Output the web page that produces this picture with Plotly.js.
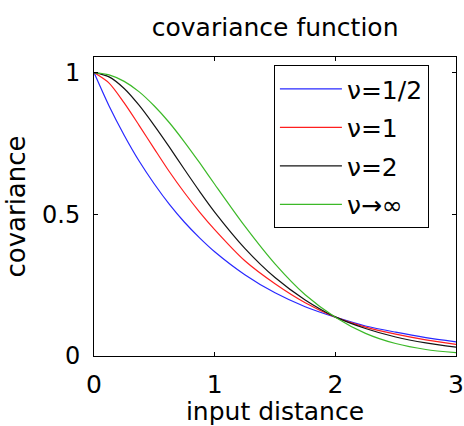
<!DOCTYPE html>
<html>
<head>
<meta charset="utf-8">
<script src="https://cdn.plot.ly/plotly-3.0.1.min.js"></script>
<style>html,body{margin:0;padding:0;background:#fff;}#chart{width:464px;height:426px;}</style>
</head>
<body>
<div id="chart"></div>
<script>
// input distance samples
const distance = [0, 0.125, 0.25, 0.375, 0.5, 0.625, 0.75, 0.875, 1, 1.25, 1.5, 1.75, 2, 2.25, 2.5, 2.75, 3];
// covariance values
const nuHalf = [1, 0.882, 0.779, 0.687, 0.607, 0.535, 0.472, 0.417, 0.368, 0.287, 0.223, 0.174, 0.137, 0.106, 0.084, 0.065, 0.050];
const nuOne  = [1, 0.963, 0.893, 0.813, 0.731, 0.650, 0.576, 0.508, 0.446, 0.336, 0.255, 0.188, 0.137, 0.102, 0.077, 0.057, 0.041];
const nuTwo  = [1, 0.985, 0.944, 0.884, 0.813, 0.737, 0.658, 0.581, 0.508, 0.380, 0.277, 0.198, 0.138, 0.097, 0.067, 0.046, 0.031];
const nuInf  = [1, 0.992, 0.969, 0.932, 0.882, 0.823, 0.755, 0.682, 0.606, 0.458, 0.325, 0.216, 0.137, 0.080, 0.044, 0.023, 0.012];
const seriesNames = ['ν=1/2', 'ν=1', 'ν=2', 'ν→∞'];
const seriesColors = ['rgb(40,40,255)', 'rgb(255,30,30)', 'rgb(20,20,20)', 'rgb(60,185,40)'];
const xTicks = [0, 1, 2, 3];
const yTicks = [0, 0.5, 1];
const yTickText = ['0', '0.5', '1'];

const FONT = 'DejaVu Sans, sans-serif';
const allY = [nuHalf, nuOne, nuTwo, nuInf];
const traces = allY.map((ys, i) => ({
  x: distance, y: ys, type: 'scatter', mode: 'lines',
  name: seriesNames[i], legendgroup: 'g' + i,
  line: {color: seriesColors[i], width: 1.2, shape: 'spline', smoothing: 0.8}
}));

const layout = {
  width: 464, height: 426,
  margin: {l: 94, r: 8, t: 57, b: 70},
  paper_bgcolor: '#fff', plot_bgcolor: '#fff',
  font: {family: FONT, color: '#000', size: 25},
  title: {text: 'covariance function', font: {family: FONT, size: 25, color: '#000'},
          x: 0.593, xanchor: 'center', y: 0.935, yanchor: 'middle', yref: 'container'},
  xaxis: {range: [0, 3], tickvals: xTicks, ticktext: xTicks.map(String),
          ticks: 'inside', ticklen: 4, tickcolor: '#000', mirror: 'ticks',
          showline: true, linecolor: '#000', linewidth: 1, showgrid: false, zeroline: false,
          tickfont: {size: 25}, ticklabelstandoff: 6,
          title: {text: 'input distance', font: {size: 25}, standoff: 2}},
  yaxis: {range: [0, 1.055], tickvals: yTicks, ticktext: yTickText,
          ticks: 'inside', ticklen: 4, tickcolor: '#000', mirror: 'ticks',
          showline: true, linecolor: '#000', linewidth: 1, showgrid: false, zeroline: false,
          tickfont: {size: 24}, ticklabelstandoff: 8,
          title: {text: 'covariance', font: {size: 26}, standoff: 8}},
  showlegend: true,
  legend: {x: 0.497, y: 0.973, xanchor: 'left', yanchor: 'top',
           bgcolor: '#fff', bordercolor: '#000', borderwidth: 1,
           font: {size: 25}, traceorder: 'grouped', tracegroupgap: 3,
           itemwidth: 62, entrywidth: 100, entrywidthmode: 'pixels'}
};

Plotly.newPlot('chart', traces, layout, {displayModeBar: false, staticPlot: true});
</script>
</body>
</html>
